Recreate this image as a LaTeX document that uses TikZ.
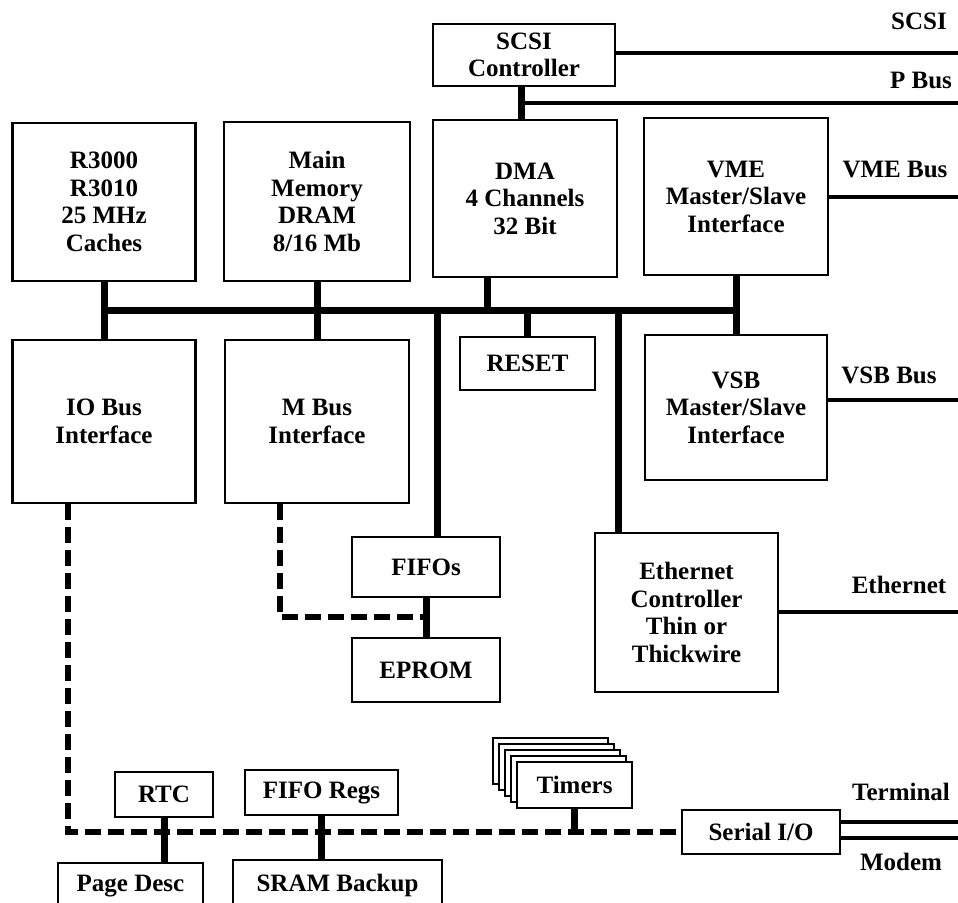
\documentclass[tikz,border=0pt]{standalone}
\usepackage{fontspec}
\setmainfont{Liberation Serif}
\begin{document}
\begin{tikzpicture}[x=1pt,y=-1pt,
  box/.style={draw, line width=2.5pt, fill=white, align=center, inner sep=0pt,
    font=\bfseries\fontsize{25}{27.5}\selectfont},
  bus/.style={line width=7pt},
  ext/.style={line width=4pt},
  dbus/.style={line width=6.5pt, dash pattern=on 16pt off 7pt},
  lbl/.style={font=\bfseries\fontsize{25}{27.5}\selectfont, inner sep=0pt}]
\useasboundingbox (0,0) rectangle (958,902);
\clip (0,0) rectangle (958,902);
\fill[white] (0,0) rectangle (958,902);

% coordinates
\coordinate (busL) at (104,310);
\coordinate (busR) at (736,310);
\coordinate (dmastem) at (487,310);
\coordinate (fifostem) at (437,310);
\coordinate (ethstem) at (618,310);
\coordinate (pbusV) at (521,103);
\coordinate (pbusE) at (958,103);
\coordinate (scsiE) at (958,53);
\coordinate (vmeE) at (958,197);
\coordinate (vsbE) at (958,400);
\coordinate (ethE) at (958,612);
\coordinate (termE) at (958,822);
\coordinate (modemE) at (958,838);
\coordinate (mbd) at (280,617);
\coordinate (iod) at (68,832);

% boxes
\node[box, minimum width=182pt, minimum height=62pt] (scsi) at (524,55) {SCSI\\Controller};
\node[box, minimum width=183pt, minimum height=158pt] (r3000) at (104,202) {R3000\\R3010\\25 MHz\\Caches};
\node[box, minimum width=186pt, minimum height=159pt] (mainmem) at (317,201.5) {Main\\Memory\\DRAM\\8/16 Mb};
\node[box, minimum width=184pt, minimum height=157pt] (dma) at (525,198.5) {DMA\\4 Channels\\32 Bit};
\node[box, minimum width=184pt, minimum height=157pt] (vme) at (736,196.5) {VME\\Master/Slave\\Interface};
\node[box, minimum width=183pt, minimum height=163pt] (io) at (104,421.5) {IO Bus\\Interface};
\node[box, minimum width=184pt, minimum height=163pt] (mbus) at (317,421.5) {M Bus\\Interface};
\node[box, minimum width=135pt, minimum height=53pt] (reset) at (527.5,363.5) {RESET};
\node[box, minimum width=182pt, minimum height=145pt] (vsb) at (736,407.5) {VSB\\Master/Slave\\Interface};
\node[box, minimum width=148pt, minimum height=60pt] (fifos) at (426,567) {FIFOs};
\node[box, minimum width=148pt, minimum height=64pt] (eprom) at (426,670) {EPROM};
\node[box, minimum width=183pt, minimum height=159pt] (eth) at (686.5,612.5) {Ethernet\\Controller\\Thin or\\Thickwire};
\node[box, minimum width=98pt, minimum height=45pt] (rtc) at (164,794.5) {RTC};
\node[box, minimum width=145pt, minimum height=46pt] (pagedesc) at (130.5,886) {Page Desc};
\node[box, minimum width=153pt, minimum height=45pt] (fiforegs) at (321.5,792.5) {FIFO Regs};
\node[box, minimum width=209pt, minimum height=50pt] (sram) at (337.5,885) {SRAM Backup};
\foreach \i in {4,3,2,1}
  \node[box, minimum width=115pt, minimum height=46pt] (tb\i) at ({574.5-6*\i},{785-6*\i}) {};
\node[box, minimum width=115pt, minimum height=46pt] (timers) at (574.5,785) {Timers};
\node[box, minimum width=158pt, minimum height=44pt] (serial) at (761,832) {Serial I/O};

% labels
\node[lbl] (lscsi) at (919,21) {SCSI};
\node[lbl] (lpbus) at (921,80) {P Bus};
\node[lbl] (lvme) at (895,170) {VME Bus};
\node[lbl] (lvsb) at (889,375) {VSB Bus};
\node[lbl] (leth) at (899,585) {Ethernet};
\node[lbl] (lterm) at (901,792) {Terminal};
\node[lbl] (lmodem) at (901,862) {Modem};

% main bus and stems
\draw[bus, line cap=rect] (busL) -- (busR);
\draw[bus] (r3000.south) -- (io.north);
\draw[bus] (mainmem.south) -- (mbus.north);
\draw[bus] (dma.south -| dmastem) -- (dmastem);
\draw[bus] (vme.south) -- (vsb.north);
\draw[bus] (reset.north |- busL) -- (reset.north);
\draw[bus] (fifostem) -- (fifos.north -| fifostem);
\draw[bus] (ethstem) -- (eth.north -| ethstem);
\draw[bus] (fifos.south) -- (eprom.north);

% SCSI / P bus
\draw[bus] (scsi.south -| pbusV) -- (dma.north -| pbusV);
\draw[ext] (pbusV) -- (pbusE);
\draw[ext] (scsi.east |- scsiE) -- (scsiE);

% external buses
\draw[ext] (vme.east |- vmeE) -- (vmeE);
\draw[ext] (vsb.east |- vsbE) -- (vsbE);
\draw[ext] (eth.east |- ethE) -- (ethE);
\draw[ext] (serial.east |- termE) -- (termE);
\draw[ext] (serial.east |- modemE) -- (modemE);

% dashed local bus
\draw[dbus] (mbus.south -| mbd) -- (mbd) -- (mbd -| fifos.south);
\draw[dbus] (io.south -| iod) -- (iod) -- (serial.west);

% small stems
\draw[bus] (rtc.south) -- (rtc.south |- pagedesc.north);
\draw[bus] (fiforegs.south) -- (fiforegs.south |- sram.north);
\draw[bus] (timers.south) -- (timers.south |- iod);
\end{tikzpicture}
\end{document}
